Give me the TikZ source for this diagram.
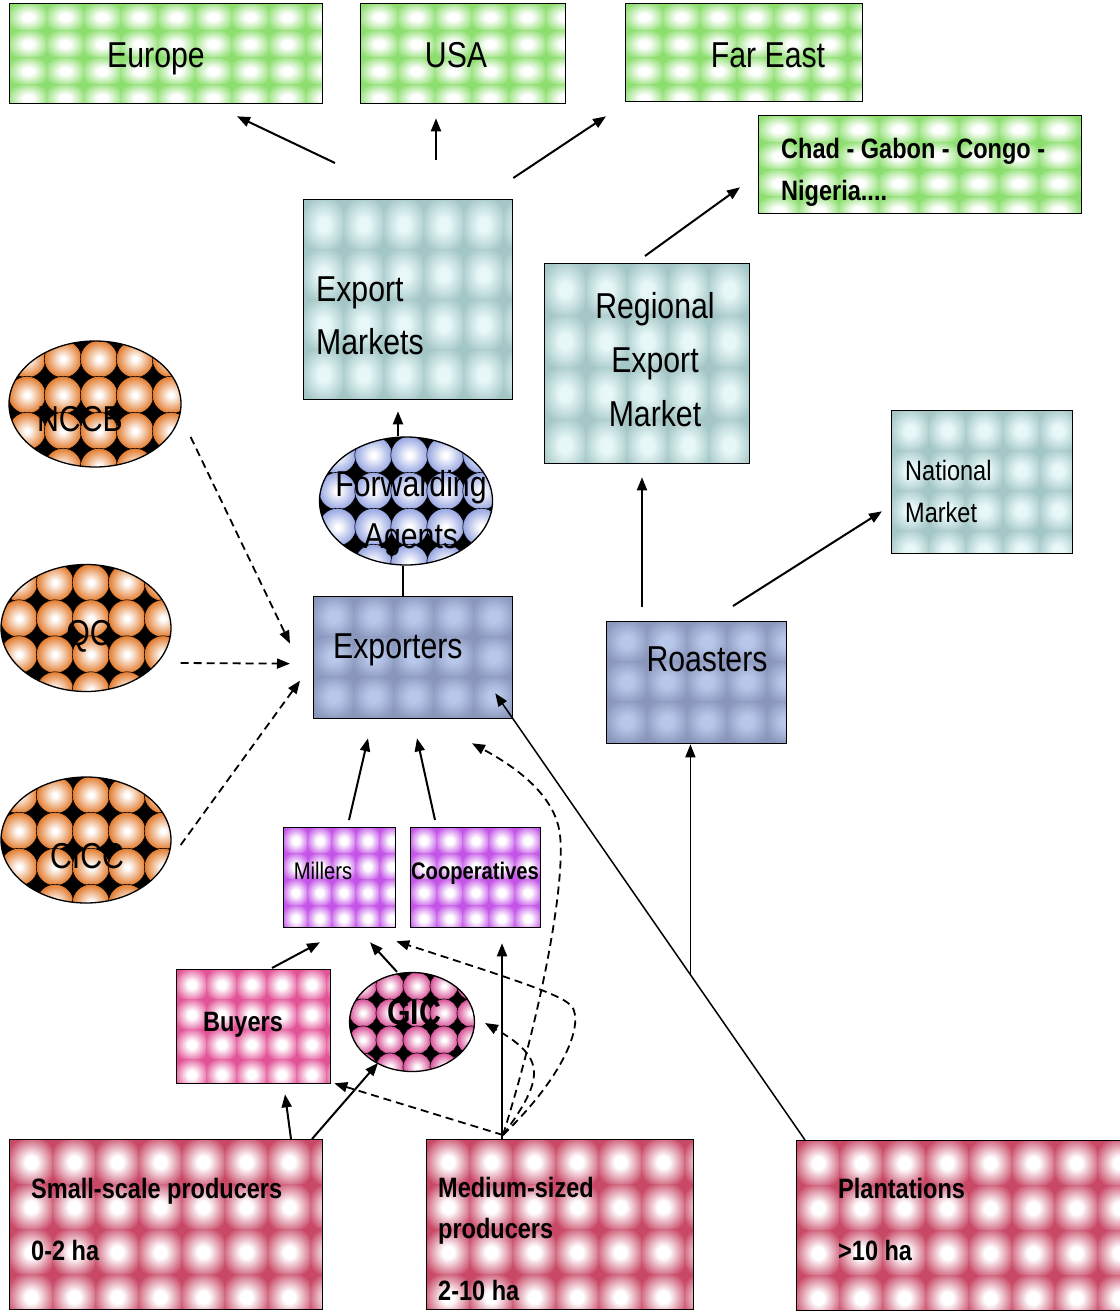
\documentclass[tikz,border=0pt]{standalone}
\usepackage{fontspec}
\setmainfont[FakeStretch=0.84]{Liberation Sans}
\usetikzlibrary{arrows.meta,shapes.geometric}

\definecolor{cGreen}{RGB}{140,222,110}
\definecolor{cTeal}{RGB}{164,198,198}
\definecolor{cTealIn}{RGB}{232,248,248}
\definecolor{cSlate}{RGB}{138,150,188}
\definecolor{cSlateIn}{RGB}{184,200,234}
\definecolor{cPurple}{RGB}{196,84,232}
\definecolor{cPink}{RGB}{226,82,150}
\definecolor{cCrimson}{RGB}{200,72,102}
\definecolor{cOrange}{RGB}{226,122,44}
\definecolor{cFwd}{RGB}{150,165,225}
\definecolor{cGic}{RGB}{215,80,150}
\colorlet{tilec}{cGreen}
\colorlet{tilein}{white}

\pgfdeclareradialshading[tilec,tilein]{tileshade}{\pgfpoint{0bp}{0bp}}{color(0bp)=(tilein); color(7bp)=(tilein); color(30bp)=(tilec); color(50bp)=(tilec)}
\pgfdeclareradialshading[tilec,tilein]{ballshade}{\pgfpoint{0bp}{0bp}}{color(0bp)=(tilein); color(3bp)=(tilein); color(25bp)=(tilec); color(50bp)=(tilec)}

\tikzset{
  tiled/.style n args={6}{path picture={%
    \colorlet{tilec}{#1}\colorlet{tilein}{#2}%
    \fill[#1] (path picture bounding box.north west) rectangle (path picture bounding box.south east);
    \foreach \i in {0,...,#5}{\foreach \j in {0,...,#6}{%
      \shade[shading=tileshade] ([shift={(\i*#3,\j*#4)}]path picture bounding box.north west) rectangle ++(#3,#4);}}%
  }},
  balled/.style n args={5}{path picture={%
    \colorlet{tilec}{#1}\colorlet{tilein}{#2}%
    \fill[black] (path picture bounding box.north west) rectangle (path picture bounding box.south east);
    \foreach \i in {0,...,#4}{\foreach \j in {0,...,#5}{%
      \shadedraw[shading=ballshade,draw=black,line width=0.6pt] ([shift={(\i*#3+#3/2,\j*#3+#3/2)}]path picture bounding box.north west) circle[radius=#3*0.52pt];}}%
  }},
  box/.style={draw=black, line width=1.3pt, rectangle, inner sep=0pt, anchor=north west},
  oval/.style={draw=black, line width=1.3pt, ellipse, inner sep=0pt},
  big/.style={inner sep=0pt, font=\fontsize{36}{53}\selectfont},
  bigb/.style={inner sep=0pt, font=\fontsize{36}{53}\selectfont\bfseries},
  mid/.style={inner sep=0pt, font=\fontsize{28}{42}\selectfont},
  midb/.style={inner sep=0pt, font=\fontsize{28}{42}\selectfont\bfseries},
  sml/.style={inner sep=0pt, font=\fontsize{24}{30}\selectfont},
  smlb/.style={inner sep=0pt, font=\fontsize{24}{30}\selectfont\bfseries},
  arr/.style={-{Triangle[length=13pt,width=10pt]}, line width=2pt},
  arrthin/.style={-{Triangle[length=13pt,width=10pt]}, line width=1.5pt},
  darr/.style={-{Triangle[length=13pt,width=10pt]}, line width=1.8pt, dash pattern=on 8pt off 5pt},
}

\begin{document}
\begin{tikzpicture}[x=1pt,y=-1pt]
\useasboundingbox[fill=white] (0,0) rectangle (1119,1311);

% boxes
\node[box, minimum width=313pt, minimum height=100pt, tiled={cGreen}{white}{37}{27}{8}{3}] (europe) at (9,3) {};
\node[box, minimum width=205pt, minimum height=100pt, tiled={cGreen}{white}{37}{27}{6}{3}] (usa) at (360,3) {};
\node[box, minimum width=237pt, minimum height=98pt, tiled={cGreen}{white}{37}{27}{6}{3}] (fareast) at (625,3) {};
\node[box, minimum width=323pt, minimum height=98pt, tiled={cGreen}{white}{40}{27}{8}{3}] (chad) at (758,115) {};
\node[box, minimum width=209pt, minimum height=200pt, tiled={cTeal}{cTealIn}{40}{50}{5}{4}] (expm) at (303,199) {};
\node[box, minimum width=205pt, minimum height=200pt, tiled={cTeal}{cTealIn}{41}{52}{5}{3}] (regm) at (544,263) {};
\node[box, minimum width=181pt, minimum height=143pt, tiled={cTeal}{cTealIn}{37}{40}{4}{3}] (natm) at (891,410) {};
\node[box, minimum width=199pt, minimum height=122pt, tiled={cSlate}{cSlateIn}{40}{40}{4}{3}] (expo) at (313,596) {};
\node[box, minimum width=180pt, minimum height=122pt, tiled={cSlate}{cSlateIn}{40}{40}{4}{3}] (roast) at (606,621) {};
\node[box, minimum width=112pt, minimum height=100pt, tiled={cPurple}{white}{24}{26}{4}{3}] (millers) at (283,827) {};
\node[box, minimum width=130pt, minimum height=100pt, tiled={cPurple}{white}{26}{26}{4}{3}] (coop) at (410,827) {};
\node[box, minimum width=154pt, minimum height=114pt, tiled={cPink}{white}{30}{30}{5}{3}] (buyers) at (176,969) {};
\node[box, minimum width=313pt, minimum height=170pt, tiled={cCrimson}{white}{43}{45}{7}{3}] (small) at (9,1139) {};
\node[box, minimum width=267pt, minimum height=170pt, tiled={cCrimson}{white}{43}{45}{6}{3}] (medium) at (426,1139) {};
\node[box, minimum width=330pt, minimum height=170pt, tiled={cCrimson}{white}{43}{45}{7}{3}] (plant) at (796,1140) {};

% ellipses
\node[oval, minimum width=172pt, minimum height=126pt, balled={cOrange}{white}{36}{4}{3}] (nccb) at (95,404) {};
\node[oval, minimum width=170pt, minimum height=127pt, balled={cOrange}{white}{36}{4}{3}] (qc) at (86,628) {};
\node[oval, minimum width=170pt, minimum height=126pt, balled={cOrange}{white}{36}{4}{3}] (cicc) at (86,840) {};
\node[oval, minimum width=173pt, minimum height=128pt, balled={cFwd}{white}{36}{4}{3}] (fwd) at (406,501) {};
\node[oval, minimum width=125pt, minimum height=99pt, balled={cGic}{white}{27}{4}{3}] (gic) at (412,1022) {};

% texts
\node[big, anchor=base] (europe-t) at (156,68) {Europe};
\node[big, anchor=base] (usa-t) at (456,68) {USA};
\node[big, anchor=base] (fareast-t) at (768,68) {Far East};
\node[midb, anchor=base west] (chad-t1) at (781,158) {Chad - Gabon - Congo -};
\node[midb, anchor=base west] (chad-t2) at (781,200) {Nigeria....};
\node[big, anchor=base west] (expm-t1) at (316,301) {Export};
\node[big, anchor=base west] (expm-t2) at (316,354) {Markets};
\node[big, anchor=base] (regm-t1) at (655,318) {Regional};
\node[big, anchor=base] (regm-t2) at (655,372) {Export};
\node[big, anchor=base] (regm-t3) at (655,426) {Market};
\node[mid, anchor=base west] (natm-t1) at (905,480) {National};
\node[mid, anchor=base west] (natm-t2) at (905,522) {Market};
\node[big, anchor=base] (nccb-t) at (80,431) {NCCB};
\node[big, anchor=base] (qc-t) at (89,645) {QC};
\node[big, anchor=base] (cicc-t) at (87,868) {CICC};
\node[big, anchor=base] (fwd-t1) at (411,496) {Forwarding};
\node[big, anchor=base] (fwd-t2) at (411,548) {Agents};
\node[big, anchor=base west] (expo-t) at (333,658) {Exporters};
\node[big, anchor=base] (roast-t) at (707,671) {Roasters};
\node[sml, anchor=base] (millers-t) at (323,879) {Millers};
\node[smlb, anchor=base] (coop-t) at (475,879) {Cooperatives};
\node[midb, anchor=base] (buyers-t) at (243,1031) {Buyers};
\node[bigb, anchor=base] (gic-t) at (414,1024) {GIC};
\node[midb, anchor=base west] (small-t1) at (31,1198) {Small-scale producers};
\node[midb, anchor=base west] (small-t2) at (31,1260) {0-2 ha};
\node[midb, anchor=base west] (med-t1) at (438,1197) {Medium-sized};
\node[midb, anchor=base west] (med-t2) at (438,1238) {producers};
\node[midb, anchor=base west] (med-t3) at (438,1300) {2-10 ha};
\node[midb, anchor=base west] (plant-t1) at (838,1198) {Plantations};
\node[midb, anchor=base west] (plant-t2) at (838,1260) {>10 ha};

% connectors
\draw[arr] ([shift={(32,-36)}]expm.north west) -- ([shift={(228,12)}]europe.south west);
\draw[arr] ([shift={(133,-39)}]expm.north west) -- ([shift={(76,14)}]usa.south west);
\draw[arr] ([shift={(0,-21)}]expm.north east) -- ([shift={(-19,14)}]fareast.south west);
\draw[arr] ([shift={(101,-7)}]regm.north west) -- ([shift={(-18,-27)}]chad.south west);
\draw[arr] ([shift={(-8,0)}]fwd.north) -- ([shift={(95,11)}]expm.south west);
\draw[line width=1.2pt] ([shift={(90,0)}]expo.north west) -- ([shift={(-3,0)}]fwd.south);
\draw[arr] ([shift={(66,-7)}]millers.north west) -- ([shift={(55,19)}]expo.south west);
\draw[arr] ([shift={(25,-7)}]coop.north west) -- ([shift={(104,19)}]expo.south west);
\draw[arrthin] ([shift={(9,0)}]plant.north west) -- coordinate[pos=0.37] (junc) ([shift={(-18,-26)}]expo.south east);
\draw[arrthin] (junc) -- (junc |- roast.south);
\draw[arr] ([shift={(36,-14)}]roast.north west) -- ([shift={(98,13)}]regm.south west);
\draw[arr] ([shift={(127,-15)}]roast.north west) -- ([shift={(-9,-43)}]natm.south west);

\draw[darr] ([shift={(9,33)}]nccb.east) -- ([shift={(-23,-14)}]expo.west);
\draw[darr] ([shift={(9,35)}]qc.east) -- ([shift={(-23,6)}]expo.west);
\draw[darr] ([shift={(9,5)}]cicc.east) -- ([shift={(-13,23)}]expo.west);

\draw[arr] ([shift={(96,-1)}]buyers.north west) -- ([shift={(37,14)}]millers.south west);
\draw[arr] ([shift={(-15,0)}]gic.north) -- ([shift={(87,14)}]millers.south west);
\draw[arr] ([shift={(282,0)}]small.north west) -- ([shift={(109,10)}]buyers.south west);
\draw[arr] ([shift={(303,0)}]small.north west) -- ([shift={(-34,41)}]gic.center);
\draw[arr] ([shift={(76,0)}]medium.north west) -- ([shift={(92,15)}]coop.south west);

\coordinate (mtop) at ([shift={(77,-4)}]medium.north west);
\draw[darr] (mtop) -- ([shift={(3,-1)}]buyers.south east);
\draw[darr] (mtop) .. controls (545,1078) and (546,1058) .. ([shift={(73,1)}]gic.center);
\draw[darr] (mtop) .. controls (560,1080) and (578,1035) .. (575,1015) .. controls (573,1000) and (566,996) .. ([shift={(0,13)}]millers.south east);
\draw[darr] (mtop) .. controls (545,1000) and (565,880) .. (560,835) .. controls (556,800) and (525,772) .. ([shift={(159,24)}]expo.south west);
\end{tikzpicture}
\end{document}
